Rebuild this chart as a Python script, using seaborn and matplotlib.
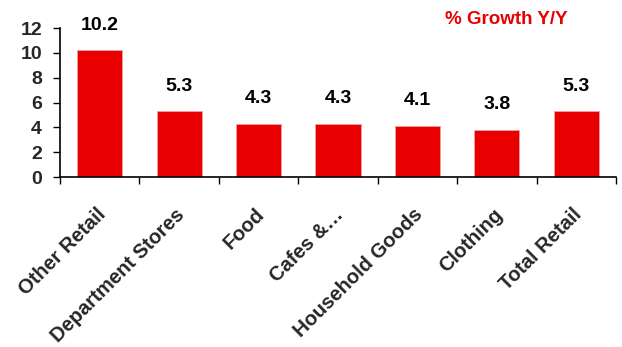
import matplotlib
matplotlib.use("Agg")
import matplotlib.pyplot as plt
import matplotlib.transforms as mtransforms
import numpy as np
import pandas as pd
import seaborn as sns

categories = ["Other Retail", "Department Stores", "Food", "Cafes &\u2026",
              "Household Goods", "Clothing", "Total Retail"]
growth = [10.2, 5.3, 4.3, 4.3, 4.1, 3.8, 5.3]
value_labels = ["10.2", "5.3", "4.3", "4.3", "4.1", "3.8", "5.3"]
y_ticks = [0, 2, 4, 6, 8, 10, 12]
title_text = "% Growth Y/Y"

sns.set_theme(style="white")
plt.rcParams["font.family"] = ["Liberation Sans", "DejaVu Sans"]
plt.rcParams["font.weight"] = "bold"

df = pd.DataFrame({"category": categories, "growth": growth})

fig = plt.figure(figsize=(6.22, 3.47), dpi=100)
ax = fig.add_axes([60 / 622, 170 / 347, 556 / 622, 149 / 347])

red = "#E80000"
sns.barplot(data=df, x="category", y="growth", color=red, saturation=1,
            width=0.57, edgecolor="#F4A0A0", linewidth=0.6, ax=ax)

for i, (v, lab) in enumerate(zip(growth, value_labels)):
    ax.annotate(lab, (i, v), xytext=(0, 12), textcoords="offset points",
                ha="center", va="bottom", fontsize=14, fontweight="bold",
                color="black")

ax.set_xlim(-0.5, len(categories) - 0.5)
ax.set_ylim(0, 12)
ax.set_yticks(y_ticks)
ax.set_yticklabels([str(t) for t in y_ticks], fontsize=14, fontweight="bold")

# category labels at bar centres, tick marks at category boundaries
ax.set_xticks(np.arange(len(categories)))
ax.set_xticklabels(categories, rotation=45, ha="right", va="top",
                   rotation_mode="anchor", fontsize=14.5, fontweight="bold")
ax.tick_params(axis="x", which="major", length=0, pad=20)
shift = mtransforms.ScaledTranslation(-4 / 100, 0, fig.dpi_scale_trans)
for lbl in ax.get_xticklabels():
    lbl.set_transform(lbl.get_transform() + shift)
ax.set_xticks(np.arange(len(categories) + 1) - 0.5, minor=True)
ax.tick_params(axis="x", which="minor", direction="out", length=5,
               width=1, color="black", bottom=True)
ax.tick_params(axis="y", direction="out", length=5, width=1,
               color="black", left=True, pad=8)

ax.set_xlabel("")
ax.set_ylabel("")
sns.despine(ax=ax)
for side in ("left", "bottom"):
    ax.spines[side].set_color("black")
    ax.spines[side].set_linewidth(1.2)

fig.text(506 / 622, 1 - 19 / 347, title_text, ha="center", va="center",
         fontsize=13.5, fontweight="bold", color=red)

fig.savefig("out.png", dpi=100)
